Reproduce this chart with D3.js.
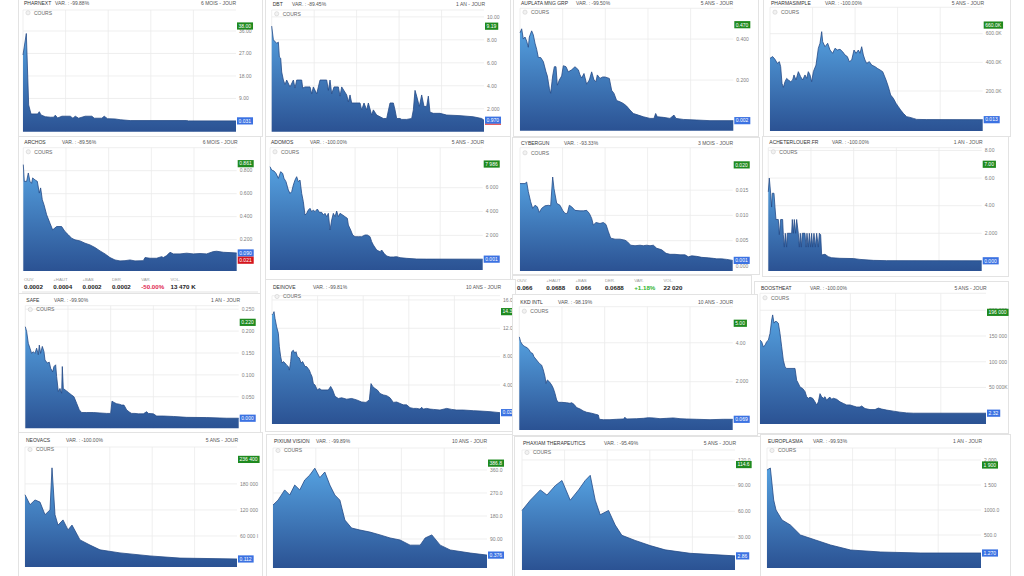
<!DOCTYPE html>
<meta charset="utf-8">
<script src="https://d3js.org/d3.v7.min.js"></script>
<style>body{margin:0;background:#fff;overflow:hidden}</style>
<div id="chart"></div>
<script>
// ---- values ----
var names = ["PHARNEXT","DBT","AUPLATA MNG GRP","PHARMASIMPLE","ARCHOS","ADOMOS","CYBERGUN","ACHETERLOUER.FR",
  "SAFE","DEINOVE","KKD INTL","BOOSTHEAT","NEOVACS","PIXIUM VISION","PHAXIAM THERAPEUTICS","EUROPLASMA"];
var variations = ["-99.88%","-89.45%","-99.50%","-100.00%","-89.56%","-100.00%","-93.33%","-100.00%",
  "-99.90%","-99.81%","-98.19%","-100.00%","-100.00%","-99.89%","-95.49%","-99.93%"];
var periods = ["6 MOIS - JOUR","1 AN - JOUR","5 ANS - JOUR","5 ANS - JOUR","6 MOIS - JOUR","5 ANS - JOUR","3 MOIS - JOUR","1 AN - JOUR",
  "1 AN - JOUR","10 ANS - JOUR","10 ANS - JOUR","5 ANS - JOUR","5 ANS - JOUR","10 ANS - JOUR","5 ANS - JOUR","1 AN - JOUR"];

// [session, price]  (PHARMASIMPLE, BOOSTHEAT, NEOVACS in thousands)
var pharnext = [[0,26.4],[2,35],[3.4,6.4],[4.8,2.8],[8.8,2.8],[9.8,3.7],[10.8,2.4],[13.4,1.7],[16.4,1.5],[18.4,1.5],[19.4,2.3],[20.8,1.2],[23.4,1.9],[28.4,1.9],[30,1.1],[31.4,1.9],[33.4,1.1],[37.4,1.9],[41.4,1.9],[42.8,1.1],[47.4,1.1],[48.8,1.9],[50.8,0.9],[55.4,0.8],[58.4,0.5],[64.4,0.15],[98.4,0.15],[99.4,0.03],[128,0.031]];
var dbt = [[0,9.2],[1,8.0],[3,7.7],[4,7.8],[4.6,6.5],[5.4,6.4],[6,5.2],[7,4.5],[8,4.1],[9,4.5],[11,3.9],[13,4.5],[14,3.8],[15,4.5],[18,4.5],[18.6,3.8],[20,3.9],[23,3.9],[24,3.3],[25,3.9],[27,3.3],[28,3.9],[29,4.5],[33,4.5],[34,3.6],[35,4.5],[36,3.3],[37.4,3.9],[40,3.9],[41,3.1],[42,3.9],[45,3.2],[46,2.6],[47,3.2],[48,2.5],[53,2.5],[54,1.9],[55.4,2.5],[57,1.9],[58,2.5],[60,1.45],[61,1.9],[63,1.45],[65,1.3],[67,1.15],[69,1.15],[71,2.5],[73,2.5],[74,1.9],[75,1.15],[77,1.15],[78,1.07],[81,1.07],[84,1.15],[85,1.9],[86,3.6],[87,3.1],[88.6,2.2],[90,3.2],[91.4,2.2],[93,2.2],[94,3.1],[95,1.7],[97,1.6],[101,1.6],[105,1.45],[113,1.4],[121,1.3],[126,1.15],[127.4,1.0]];
var auplata = [[0,.43],[1,.45],[2,.40],[3,.41],[4,.39],[5,.36],[5.6,.41],[7,.44],[8,.42],[9,.38],[10,.35],[11,.31],[12.4,.31],[14,.29],[15.6,.24],[16.4,.22],[17.6,.16],[18.4,.135],[19.6,.22],[20.6,.265],[21.6,.265],[22.4,.175],[23.6,.2],[25,.22],[26,.27],[27.6,.265],[29,.24],[31,.25],[33,.265],[35,.25],[36,.225],[37,.21],[38.4,.232],[40,.18],[41.6,.2],[43,.24],[44.4,.2],[45.6,.192],[46.4,.225],[48,.208],[49.6,.215],[51,.215],[53.6,.208],[55,.15],[56.4,.135],[58,.1],[60,.094],[62,.086],[64,.073],[66,.054],[68,.037],[71,.029],[74,.021],[78,.013],[80.4,.013],[81.4,.037],[82.4,.021],[86,.018],[90,.013],[92.4,.029],[93.6,.013],[98,.008],[106,.005],[114,.002],[128,.002]];
var pharmasimple = [[0,428],[1.6,440],[3,421],[4.4,393],[5.6,405],[6.4,370],[7.2,253],[8,225],[9,265],[10,288],[11,277],[12.4,265],[13.6,277],[14.4,312],[15.6,277],[17,335],[18.4,300],[19.6,277],[21,312],[22,288],[23,335],[24,312],[25,265],[26,335],[27.6,381],[29,498],[30,533],[31,614],[31.6,544],[33,509],[34.6,533],[36,486],[37.6,463],[39,498],[40.4,486],[42,491],[43.6,474],[45,451],[46.4,440],[47.6,405],[49,416],[50.4,486],[51.6,463],[53,486],[54,463],[55,509],[56,451],[57,416],[58,393],[59.6,405],[61,381],[63,370],[64.4,358],[66,347],[67.6,335],[68.4,312],[69.6,277],[71,230],[72.4,172],[74,149],[75.6,114],[77,91],[78.4,67],[80,44],[82,21],[84,16],[86,9],[88,2],[94,0.5],[127.6,0.013]];
var archos = [[0,.853],[0.6,.707],[2,.707],[3,.78],[4,.707],[5,.69],[5.6,.737],[7,.72],[8.4,.707],[9.6,.605],[10.4,.65],[11.4,.547],[12.4,.504],[14,.416],[16,.343],[17.6,.285],[20,.314],[23,.314],[25,.27],[27,.242],[29,.212],[31,.198],[34,.189],[37,.169],[40,.154],[43,.131],[46,.102],[49,.076],[52,.044],[55,.023],[58,.015],[61,.017],[64,.023],[67,.015],[72,.017],[73,.044],[76,.038],[80,.038],[83,.052],[84,.044],[86,.061],[88,.09],[90,.076],[94,.076],[98,.082],[102,.076],[106,.079],[110,.076],[114,.096],[116,.099],[120,.09],[124,.087],[128,.084]];
var adomos = [[0,7762],[1,7483],[2.4,7399],[3.6,7203],[5,6783],[6.4,7343],[7.6,7203],[8.4,6783],[9.6,6503],[11,5804],[12,5524],[13,5664],[14,6224],[15,6643],[16,6923],[17,6503],[18,6643],[19,5524],[20,4825],[21,3706],[22,3846],[23,4126],[24,4266],[25,3986],[26,4126],[27,3986],[28.4,4210],[29.6,3930],[31,3930],[32,3706],[33,3846],[34,3566],[35,3846],[36,2448],[37,3287],[38,3846],[39,3566],[40,4042],[41,3566],[42,3846],[43.6,3706],[45,3566],[46.4,3427],[47,2867],[48.4,2448],[49.6,2028],[51,1888],[53,1888],[55,1888],[57,2028],[58.4,2028],[60,1888],[61,1469],[62,1189],[64,769],[66,629],[67,769],[68.4,490],[70,266],[72,182],[74,182],[76,210],[78,126],[82,70],[88,14],[94,5],[127.6,1]];
var cybergun = [[0,.0163],[3,.0163],[4,.0166],[5,.0147],[6.4,.0127],[7.6,.0114],[9,.012],[10.4,.0117],[11.6,.0106],[13,.0114],[15,.0119],[17,.012],[18.4,.0119],[19.6,.0176],[20.4,.0153],[22,.0124],[24,.012],[25.6,.011],[27,.0104],[28.4,.0104],[29.6,.012],[31,.0117],[33,.011],[36,.0109],[38,.0109],[40,.011],[41.6,.0104],[43,.0094],[44,.0081],[45.6,.0086],[48,.0084],[50,.0086],[51.6,.0082],[53,.0068],[54.4,.0055],[57,.0053],[60,.0053],[63,.0051],[64.4,.0048],[66.4,.0041],[69,.004],[72,.0041],[74,.004],[76,.0041],[78,.004],[80,.0041],[82,.0035],[85,.0032],[87.6,.0025],[90,.0023],[93,.0023],[96,.0022],[99,.0022],[101,.0018],[103,.002],[106,.0019],[109,.0017],[113,.0016],[116,.0015],[118,.0014],[121,.0014],[124,.0013],[127.6,.0011]];
var acheterlouer = [[0,5.0],[0.6,6.0],[1.4,4.9],[2,3.9],[2.4,4.9],[3.4,4.9],[4,3.9],[4.6,3.0],[6,3.0],[6.6,1.9],[7.4,3.0],[8.6,3.0],[9,1.9],[9.6,1.0],[10.2,2.0],[11,1.0],[11.4,2.0],[14,2.0],[14.4,3.0],[15,2.0],[15.6,3.0],[16.4,2.0],[17,3.0],[18,2.0],[18.6,1.0],[19.2,2.0],[19.8,1.0],[20.4,2.0],[22,2.0],[22.6,1.0],[23.2,2.0],[24,1.0],[24.6,2.0],[25.4,1.0],[26,2.0],[26.6,1.0],[27.4,2.0],[28.2,1.0],[29,2.0],[30,1.0],[30.6,2.0],[31.4,1.9],[32,0.43],[34,0.48],[36,0.31],[38,0.23],[43,0.19],[51,0.17],[55,0.11],[63,0.04],[71,0.02],[128,0.01]];
var safe = [[0,.21],[0.8,.199],[1.8,.172],[2.8,.161],[3.8,.149],[4.8,.153],[5.8,.149],[6.8,.161],[7.8,.146],[8.4,.168],[9.2,.149],[10.2,.165],[11.2,.153],[11.8,.134],[13.2,.127],[14.4,.129],[15.2,.115],[16.4,.107],[17.2,.119],[18.2,.123],[18.8,.096],[19.8,.062],[20.8,.069],[21.8,.058],[22.2,.119],[22.8,.069],[23.8,.066],[25.8,.06],[27.8,.054],[29.2,.05],[30.8,.035],[32.4,.02],[33.8,.014],[36.8,.014],[40.8,.014],[44.8,.013],[48.8,.012],[51.2,.012],[52,.04],[53.2,.037],[54.8,.034],[56.4,.033],[57.8,.031],[59.2,.031],[60.8,.02],[62.8,.014],[63.8,.012],[65.8,.012],[67.8,.011],[70.8,.011],[72.8,.016],[73.8,.012],[76.8,.011],[78.8,.006],[82.8,.006],[88.8,.005],[96.8,.003],[108.8,.0025],[120.8,.001],[128,.001]];
var deinove = [[0,13.9],[0.8,14.1],[1.2,14.35],[1.8,13.4],[2.8,12.2],[3.8,11.3],[4.4,9.4],[5.2,8.0],[6,7.1],[6.8,7.3],[7.8,7.1],[8.8,6.8],[9.8,6.6],[10.4,6.1],[11.2,7.3],[11.8,8.7],[12.8,8.9],[13.6,8.5],[14.4,8.7],[15.2,8.0],[16.4,7.8],[17.4,7.1],[18.4,7.3],[19.8,6.6],[20.8,6.6],[22.4,6.1],[23.2,5.6],[24,5.2],[24.8,4.2],[25.8,4.0],[27.2,3.3],[28.4,3.5],[29.8,3.3],[31.8,3.3],[33.8,3.3],[35.2,3.8],[36.4,3.3],[37.8,2.4],[39.8,2.1],[41.8,2.2],[44.8,2.0],[47.8,2.1],[50.8,1.9],[53.8,1.6],[56.4,1.55],[58.4,1.9],[59.4,4.2],[60.4,3.8],[61.8,3.5],[63.2,3.3],[64.8,2.8],[66.8,2.6],[68.8,2.5],[70.8,2.2],[72.8,1.55],[74.8,1.6],[76.8,1.4],[78.8,1.2],[80.8,1.2],[82.8,0.8],[84.8,0.7],[86.8,0.7],[88.8,0.6],[89.8,0.85],[90.8,0.6],[92.8,0.7],[94.8,0.6],[96.8,0.56],[100.8,0.47],[104.8,0.7],[107.8,0.56],[110.8,0.47],[114.8,0.47],[120.8,0.38],[124.8,0.33],[130.8,0.24],[136.8,0.1]];
var kkd = [[0,4.3],[0.8,4.05],[2,3.88],[3.4,3.8],[4.8,3.74],[6,3.62],[6.8,3.5],[8,3.45],[8.8,3.28],[10.4,3.11],[12,2.94],[13.4,2.85],[14.4,2.6],[15.4,2.26],[16,1.91],[16.8,2.09],[18,2.0],[19.4,1.83],[20.4,1.66],[21.4,1.4],[22.4,1.06],[23.4,0.94],[25.4,0.94],[28.4,0.92],[30.4,0.89],[31.4,0.92],[32.8,0.84],[34.4,0.67],[36.4,0.6],[38.4,0.5],[40.4,0.43],[43.4,0.38],[46,0.32],[47.4,0.29],[48,0.07],[50.4,0.05],[54.4,0.05],[58.4,0.07],[62.4,0.085],[63.4,0.17],[64.4,0.085],[70.4,0.1],[74.4,0.12],[77.4,0.15],[80.4,0.14],[84.4,0.1],[88.4,0.12],[92.4,0.14],[96.4,0.1],[100.4,0.085],[106.4,0.07],[114.4,0.05],[122.4,0.07],[128,0.069]];
var boostheat = [[0,142],[1,139],[2,129],[3,132],[4,139],[5,142],[6,155],[7,181],[7.6,191],[8.4,175],[9,178],[10,178],[11,175],[12,155],[13,129],[14,103],[15,90],[16,87],[21,87],[22,64],[23,58],[24,51],[25.6,48],[27,42],[28,32],[29,29],[30,31],[31.6,29],[33,22],[34,16],[35,22],[36,38],[37,32],[38,29],[39,32],[40,25],[41,29],[42,31],[43,27],[44,29],[46,27],[48,22],[50,19],[52,16],[54,16],[56,14],[58,12],[60,12],[61,14],[63,9],[66,7],[69,7],[71,10],[73,8],[76,6],[80,4],[84,2],[88,0.6],[92,0.01],[135.6,0.00232]];
var neovacs = [[0,155],[3,132],[6,143],[9,138],[12,109],[15,120],[16.2,217],[18,109],[19.8,85],[22.8,97],[25.8,74],[28.2,85],[33,51],[39,39],[45,28],[57,21],[75,14],[93,9],[127.2,7]];
var pixium = [[0,223],[3,242],[7,282],[10,262],[13,301],[16,282],[19,321],[22,340],[25,367],[28,330],[31,352],[34,301],[37,262],[40,242],[43,164],[47,133],[52,125],[58,117],[64,106],[70,94],[76,86],[82,66],[88,66],[91,94],[95,106],[100,66],[106,47],[118,35],[128,27]];
var phaxiam = [[0,61],[5,73],[11,85],[15,79],[20,90],[24,96],[29,73],[34,85],[38,96],[41,102],[44,73],[47,56],[52,61],[56,44],[60,32],[68,26],[77,20],[86,15],[101,11],[128,8]];
var europlasma = [[0,1800],[2,1840],[4,1200],[5.4,1000],[9,800],[14,700],[20,500],[29,400],[38,300],[50,200],[68,160],[92,140],[128,140]];

var series = [pharnext,dbt,auplata,pharmasimple,archos,adomos,cybergun,acheterlouer,safe,deinove,kkd,boostheat,neovacs,pixium,phaxiam,europlasma];

var tickValues = [[9,18,27,36],[2,4,6,8,10],[0.2,0.4],[200,400,600],[0.2,0.4,0.6,0.8],[2000,4000,6000],[0,0.005,0.01,0.015],[2,4,6,8],
  [0,0.05,0.1,0.15,0.2,0.25],[4,8,12,16],[2,4],[50,100,150,200],[60,120,180],[90,180,270,360],[30,60,90,120],[500,1000,1500,2000]];
var tickLabels = [["9.00","18.00","27.00","36.00"],["2.000","4.00","6.00","8.00","10.00"],["0.200","0.400"],["200.0K","400.0K","600.0K"],
  ["0.200","0.400","0.600","0.800"],["2 000","4 000","6 000"],["0.000","0.005","0.010","0.015"],["2.000","4.00","6.00","8.00"],
  ["0.000","0.050","0.100","0.150","0.200","0.250"],["4.00","8.00","12.00","16.00"],["2.000","4.00"],["50 000K","100 000","150 000","200 000"],
  ["60 000 I","120 000","180 000"],["90.00","180.0","270.0","360.0"],["30.00","60.00","90.00","120.0"],["500.0","1000.0","1 500","2.000"]];
var highLabels = ["38.00","9.19","0.470","660.0K","0.861","7 986","0.020","7.00","0.220","14.35","5.00","196 000","236 400","386.8","114.6","1 900"];
var highValues = [38,9.19,0.47,660,0.861,7986,0.02,7,0.22,14.35,5,196,236.4,386.8,114.6,1900];
var lastLabels = ["0.031","0.970","0.002","0.013","0.090","0.001","0.001","0.000","0.000","0.027","0.069","2.32","0.112","0.376","2.86","1.270"];

var statsLabels = ["OUV.","+HAUT","+BAS","DER.","VAR.","VOL."];
var archosStats = ["0.0002","0.0004","0.0002","0.0002","-50.00%","13 470 K"];
var cybergunStats = ["0.066","0.0688","0.066","0.0688","+1.18%","22 020"];

// ---- layout of the collage (axis range, card, title positions) ----
var layout = [
  {plot:[23,236,10,131.7], dom:[-4.3,44.4], card:[18,-2,244,138], ty:5.1, vx:55, pr:236},
  {plot:[271.7,484,10,131.7], dom:[0,10.6], card:[265,-2,245,138], ty:6.1, vx:292, pr:485},
  {plot:[520,733.3,8.3,130.7], dom:[-0.047,0.55], card:[513,-2,245,138], ty:4.5, vx:576, pr:733},
  {plot:[770,982.7,7.3,131], dom:[-79,784], card:[763,-2,247,138], ty:4.5, vx:825, pr:984},
  {plot:[23.3,236.7,147.7,271], dom:[-0.073,1.0], card:[18,136,242,157], ty:144.1, vx:62, pr:237.7},
  {plot:[270,482.7,147.7,270], dom:[-909,9357], card:[265,136,245,146], ty:144.1, vx:310, pr:484},
  {plot:[520,732.7,147.7,271], dom:[-0.001,0.0234], card:[512,137,247,137], ty:145.1, vx:564, pr:733},
  {plot:[768.3,981.7,147.7,271], dom:[-0.73,8.2], card:[762,136,246,140], ty:144.1, vx:832, pr:982.7},
  {plot:[25.3,238.7,305.7,428.3], dom:[-0.022,0.258], card:[18,293,242,140], ty:301.8, vx:54, pr:240},
  {plot:[272,500,295.7,424], dom:[-1.5,16.6], card:[265,279,250,152], ty:288.8, vx:313, pr:501},
  {plot:[519.3,732.7,306.7,430], dom:[-0.48,5.85], card:[512,294,245,141], ty:303.5, vx:558, pr:733},
  {plot:[760,986,293.3,424], dom:[-21,233], card:[754,281,254,152], ty:290.1, vx:810, pr:986.7},
  {plot:[25,237,447,567], dom:[-11.5,265], card:[18,432,244,150], ty:441.8, vx:66, pr:238},
  {plot:[273,487,448,568], dom:[-23.5,446], card:[266,434,246,150], ty:442.8, vx:316, pr:487},
  {plot:[522,735,450,570], dom:[-8.5,131.6], card:[514,436,248,150], ty:444.8, vx:604, pr:736},
  {plot:[767,981,448,568], dom:[-160,2240], card:[760,434,250,150], ty:442.8, vx:813, pr:982}
];

var svg = d3.select("#chart").append("svg")
    .attr("width", 1024).attr("height", 576)
    .style("font-family", "'Liberation Sans', Arial, sans-serif");

var grad = svg.append("defs").append("linearGradient")
    .attr("id", "fill").attr("x1", 0).attr("y1", 0).attr("x2", 0).attr("y2", 1);
grad.append("stop").attr("offset", "0%").attr("stop-color", "#55a1e0");
grad.append("stop").attr("offset", "100%").attr("stop-color", "#2b5293");

function badge(g, x, yc, txt, color) {
  var r = g.append("rect").attr("x", x).attr("y", yc - 3.6).attr("height", 7.2).attr("fill", color);
  var t = g.append("text").attr("x", x + 1.5).attr("y", yc + 1.8).attr("fill", "#fff").attr("font-size", 5).text(txt);
  var w = t.node().getComputedTextLength() + 3.5;
  r.attr("width", w);
  return w;
}

function drawPanel(i) {
  var L = layout[i], s = series[i];
  var g = svg.append("g");
  var c = L.card;
  g.append("rect").attr("x", c[0] + 0.5).attr("y", c[1] + 0.5).attr("width", c[2]).attr("height", c[3])
      .attr("fill", "#fff").attr("stroke", "#e3e3e3");

  var x = d3.scaleLinear().domain([0, d3.max(s, d => d[0])]).range([L.plot[0], L.plot[1]]);
  var y = d3.scaleLinear().domain(L.dom).range([L.plot[3], L.plot[2]]);

  // grid
  var grid = g.append("g").attr("stroke", "#ebebeb").attr("stroke-width", 0.8);
  d3.range(0, 5).forEach(k => {
    var xv = x(x.domain()[1] * k / 5);
    grid.append("line").attr("x1", xv).attr("x2", xv).attr("y1", L.plot[2]).attr("y2", L.plot[3]);
  });
  grid.append("line").attr("x1", L.plot[0]).attr("x2", L.plot[1]).attr("y1", L.plot[2]).attr("y2", L.plot[2]);
  tickValues[i].forEach(t => {
    grid.append("line").attr("x1", L.plot[0]).attr("x2", L.plot[1]).attr("y1", y(t)).attr("y2", y(t));
  });

  // area + line
  g.append("path").datum(s)
      .attr("fill", "url(#fill)")
      .attr("d", d3.area().x(d => x(d[0])).y0(L.plot[3]).y1(d => y(d[1])));
  g.append("path").datum(s)
      .attr("fill", "none").attr("stroke", "#244a86").attr("stroke-width", 0.8)
      .attr("d", d3.line().x(d => x(d[0])).y(d => y(d[1])));

  // titles
  g.append("text").attr("x", L.plot[0] + 1).attr("y", L.ty).attr("font-size", 5).attr("fill", "#333").text(names[i]);
  g.append("text").attr("x", L.vx).attr("y", L.ty).attr("font-size", 5).attr("fill", "#555").text("VAR. : " + variations[i]);
  g.append("text").attr("x", L.pr).attr("y", L.ty).attr("text-anchor", "end").attr("font-size", 5).attr("fill", "#555").text(periods[i]);

  // legend
  var ly = L.ty + 7.7;
  g.append("circle").attr("cx", L.plot[0] + 5).attr("cy", ly).attr("r", 2.1).attr("fill", "#f2f2f2").attr("stroke", "#cfcfcf").attr("stroke-width", 0.6);
  g.append("text").attr("x", L.plot[0] + 11).attr("y", ly + 1.8).attr("font-size", 5).attr("fill", "#666").text("COURS");

  // y axis labels
  tickValues[i].forEach((t, k) => {
    g.append("text").attr("x", L.plot[1] + 3).attr("y", y(t) + 1.8).attr("font-size", 5).attr("fill", "#808080").text(tickLabels[i][k]);
  });

  badge(g, L.plot[1] + 1, y(highValues[i]), highLabels[i], "#1f8a1f");
  var last = s[s.length - 1][1];
  var bw = badge(g, L.plot[1] + 1, y(last), lastLabels[i], "#3b72e2");
  if (i === 1) {
    g.append("rect").attr("x", L.plot[1] + 1).attr("y", y(last) + 3.6).attr("width", bw).attr("height", 0.9).attr("fill", "#d22");
  }
  if (i === 4) badge(g, L.plot[1] + 1, y(0.021), "0.021", "#d4141c");
}

function drawStats(x0, yl, values, box) {
  var g = svg.append("g");
  if (box) g.append("rect").attr("x", box[0] + 0.5).attr("y", box[1] + 0.5).attr("width", box[2]).attr("height", box[3]).attr("fill", "#fff").attr("stroke", "#e3e3e3");
  statsLabels.forEach((lab, k) => {
    var xx = x0 + k * 29.3;
    g.append("text").attr("x", xx).attr("y", yl).attr("font-size", 4.3).attr("fill", "#999").text(lab);
    var col = k === 4 ? (values[k][0] === "-" ? "#e0264f" : "#2fb52f") : "#222";
    g.append("text").attr("x", xx).attr("y", yl + 8).attr("font-size", 6.2).attr("font-weight", "bold").attr("fill", col).text(values[k]);
  });
  return g;
}

var order = [0,1,2,3,4,5,6,7,8,9,11,10,12,13,14,15];
order.forEach(i => {
  drawPanel(i);
  if (i === 4) {
    var sg = drawStats(24, 281, archosStats, null);
    sg.append("line").attr("x1", 22).attr("x2", 258).attr("y1", 292).attr("y2", 292).attr("stroke", "#e3e3e3");
  }
  if (i === 6) drawStats(517, 282, cybergunStats, [512, 275, 239, 19]);
});
</script>
